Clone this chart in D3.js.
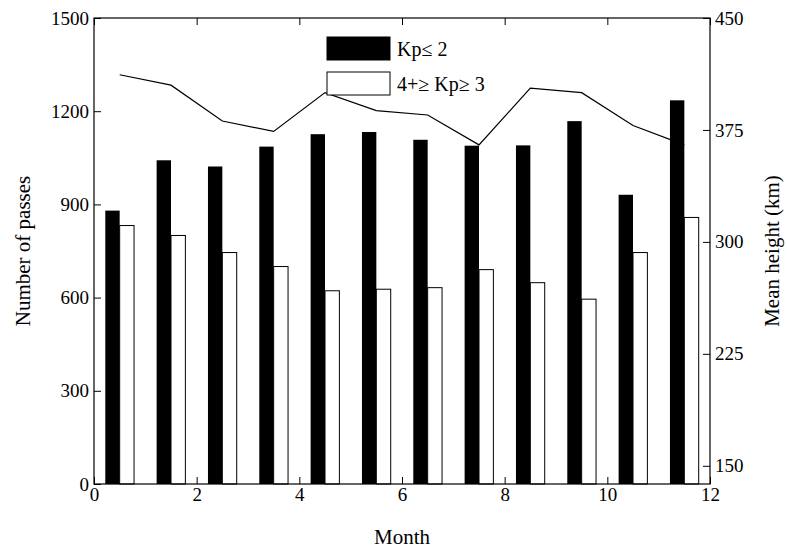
<!DOCTYPE html>
<html><head><meta charset="utf-8">
<script src="https://cdn.jsdelivr.net/npm/d3@7"></script>
<style>body{margin:0;background:#fff}</style>
</head><body>
<svg id="chart" width="787" height="552"></svg>
<script>
const months = [1,2,3,4,5,6,7,8,9,10,11,12];
const quietPasses = [880,1042,1022,1086,1126,1133,1108,1089,1090,1168,931,1235];
const activePasses = [832,800,745,700,622,627,632,690,648,595,745,858];
const meanHeight = [412,405,381,374,400,388,385,365,403,400,378,365];
const xTicks = [0,2,4,6,8,10,12];
const leftTicks = [0,300,600,900,1200,1500];
const rightTicks = [150,225,300,375,450];

const m = {left: 94, right: 710, top: 18, bottom: 484};
const svg = d3.select("#chart");
const font = "Liberation Serif, Times New Roman, serif";

const x = d3.scaleLinear().domain([0,12]).range([m.left, m.right]);
const y = d3.scaleLinear().domain([0,1500]).range([m.bottom, m.top]);
const y2 = d3.scaleLinear().domain([137.8,450]).range([m.bottom, m.top]);

// bars
svg.append("g").selectAll("rect").data(months).enter().append("rect")
    .attr("x", d => x(d - 0.78))
    .attr("width", d => x(d - 0.5) - x(d - 0.78))
    .attr("y", (d,i) => y(quietPasses[i]))
    .attr("height", (d,i) => y(0) - y(quietPasses[i]))
    .attr("fill", "black");

svg.append("g").selectAll("rect").data(months).enter().append("rect")
    .attr("x", d => x(d - 0.5))
    .attr("width", d => x(d - 0.22) - x(d - 0.5))
    .attr("y", (d,i) => y(activePasses[i]))
    .attr("height", (d,i) => y(0) - y(activePasses[i]))
    .attr("fill", "white").attr("stroke", "black").attr("stroke-width", 1);

// mean height line
svg.append("path")
    .datum(months)
    .attr("fill", "none").attr("stroke", "black").attr("stroke-width", 1.2)
    .attr("d", d3.line().x(d => x(d - 0.5)).y((d,i) => y2(meanHeight[i])));

// axes with inward ticks
function styleAxis(g) {
    g.selectAll("text").attr("font-family", font).attr("font-size", 19).attr("fill", "black");
    g.select(".domain").remove();
    g.selectAll("line").attr("stroke", "black");
}
const fmt = d3.format("d");
svg.append("g").attr("transform", `translate(0,${m.bottom})`)
    .call(d3.axisBottom(x).tickValues(xTicks).tickSize(-7).tickPadding(4).tickFormat(fmt)).call(styleAxis);
svg.append("g").attr("transform", `translate(0,${m.top})`)
    .call(d3.axisTop(x).tickValues(xTicks).tickSize(-7).tickFormat("")).call(styleAxis);
svg.append("g").attr("transform", `translate(${m.left},0)`)
    .call(d3.axisLeft(y).tickValues(leftTicks).tickSize(-7).tickPadding(5).tickFormat(fmt)).call(styleAxis);
svg.append("g").attr("transform", `translate(${m.right},0)`)
    .call(d3.axisRight(y2).tickValues(rightTicks).tickSize(-7).tickPadding(5).tickFormat(fmt)).call(styleAxis);

svg.append("rect").attr("x", m.left).attr("y", m.top)
    .attr("width", m.right - m.left).attr("height", m.bottom - m.top)
    .attr("fill", "none").attr("stroke", "black").attr("stroke-width", 1.2);

// axis titles
svg.append("text").attr("x", (m.left + m.right) / 2).attr("y", 544)
    .attr("text-anchor", "middle").attr("font-family", font).attr("font-size", 21).text("Month");
svg.append("text").attr("transform", "translate(30,251) rotate(-90)")
    .attr("text-anchor", "middle").attr("font-family", font).attr("font-size", 21).text("Number of passes");
svg.append("text").attr("transform", "translate(779,251) rotate(-90)")
    .attr("text-anchor", "middle").attr("font-family", font).attr("font-size", 21).text("Mean height (km)");

// legend
const legend = [{label: "Kp\u2264 2", fill: "black"}, {label: "4+\u2265 Kp\u2265 3", fill: "white"}];
const lg = svg.append("g");
legend.forEach((d, i) => {
    lg.append("rect").attr("x", 327).attr("y", 37 + i * 35).attr("width", 63).attr("height", 23)
        .attr("fill", d.fill).attr("stroke", "black").attr("stroke-width", 1);
    lg.append("text").attr("x", 397).attr("y", 56 + i * 35)
        .attr("font-family", font).attr("font-size", 20).text(d.label);
});
</script>
</body></html>
